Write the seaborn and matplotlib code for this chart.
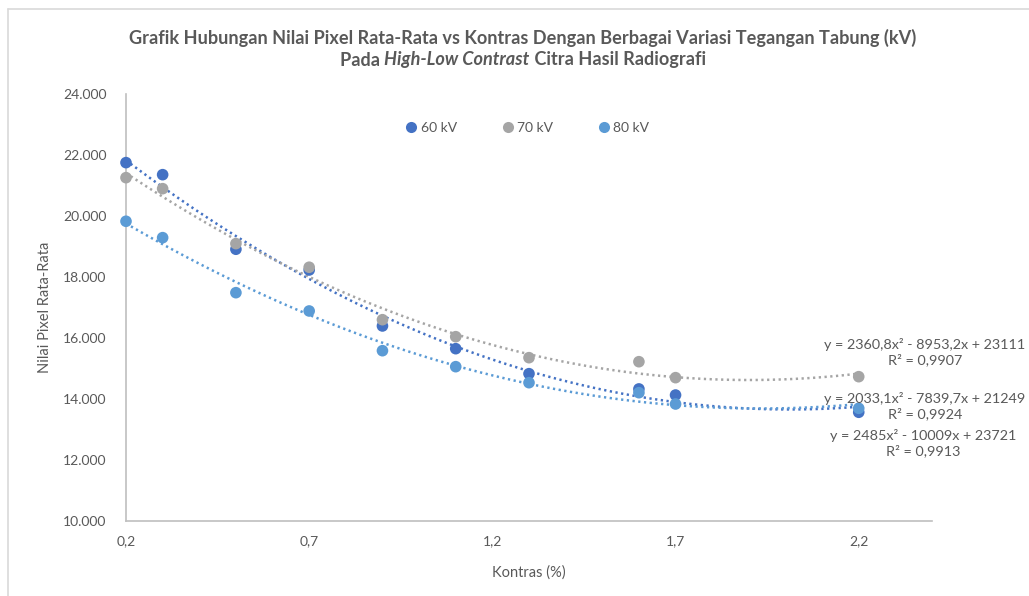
import numpy as np
import pandas as pd
import matplotlib
matplotlib.use("Agg")
import matplotlib.pyplot as plt
import seaborn as sns
from matplotlib.ticker import FuncFormatter, FixedLocator
from matplotlib.lines import Line2D

# ---------------- data ----------------
kontras = [0.2, 0.3, 0.5, 0.7, 0.9, 1.1, 1.3, 1.6, 1.7, 2.2]
kv60 = [21750, 21355, 18910, 18230, 16395, 15650, 14830, 14330, 14130, 13565]
kv70 = [21257, 20896, 19094, 18320, 16600, 16043, 15355, 15223, 14700, 14732]
kv80 = [19827, 19290, 17486, 16886, 15584, 15060, 14535, 14207, 13836, 13695]
series_names = ["60 kV", "70 kV", "80 kV"]
eq_texts = ["y = 2360,8x\u00b2 - 8953,2x + 23111\nR\u00b2 = 0,9907",
            "y = 2033,1x\u00b2 - 7839,7x + 21249\nR\u00b2 = 0,9924",
            "y = 2485x\u00b2 - 10009x + 23721\nR\u00b2 = 0,9913"]
x_ticks = [0.2, 0.7, 1.2, 1.7, 2.2]
y_ticks = [10000, 12000, 14000, 16000, 18000, 20000, 22000, 24000]

colors = {"60 kV": "#4472C4", "70 kV": "#A5A5A5", "80 kV": "#5B9BD5"}
TXT = "#595959"

df = pd.DataFrame({
    "Kontras": kontras * 3,
    "Nilai": kv60 + kv70 + kv80,
    "Seri": sum([[n] * len(kontras) for n in series_names], []),
})

sns.set_theme(style="white")
plt.rcParams["font.family"] = ["Lato", "DejaVu Sans"]

W, H = 1029, 596
fig = plt.figure(figsize=(W / 100, H / 100), dpi=100)
ax = fig.add_axes([126 / W, 1 - 521 / H, (932 - 126) / W, (521 - 94) / H])

# trendlines (2nd order polynomial)
for name in series_names:
    sub = df[df["Seri"] == name]
    sns.regplot(data=sub, x="Kontras", y="Nilai", order=2, ci=None, scatter=False,
                truncate=True, ax=ax,
                line_kws=dict(color=colors[name], lw=1.8, linestyle=(0, (0.9, 1.4))))

sns.scatterplot(data=df, x="Kontras", y="Nilai", hue="Seri", palette=colors,
                s=70, edgecolor="none", ax=ax, legend=False, zorder=5)
for c in ax.collections:
    c.set_clip_on(False)

ax.set_xlim(0.2, 2.4)
ax.set_ylim(10000, 24000)
ax.xaxis.set_major_locator(FixedLocator(x_ticks))
ax.yaxis.set_major_locator(FixedLocator(y_ticks))
ax.xaxis.set_major_formatter(FuncFormatter(lambda v, p: f"{v:.1f}".replace(".", ",")))
ax.yaxis.set_major_formatter(FuncFormatter(lambda v, p: f"{v:,.0f}".replace(",", ".")))
ax.tick_params(axis="both", length=0, labelsize=10, labelcolor=TXT)
ax.tick_params(axis="y", pad=14)
ax.tick_params(axis="x", pad=10)
for s in ["top", "right"]:
    ax.spines[s].set_visible(False)
for s in ["left", "bottom"]:
    ax.spines[s].set_color("#BFBFBF")
    ax.spines[s].set_linewidth(1.2)
ax.set_xlabel("Kontras (%)", fontsize=10.5, color=TXT, labelpad=13)
ax.set_ylabel("Nilai Pixel Rata-Rata", fontsize=10.5, color=TXT, labelpad=8)

# legend
handles = [Line2D([], [], marker="o", linestyle="none", markersize=8,
                  markerfacecolor=colors[n], markeredgecolor="none") for n in series_names]
fig.legend(handles, series_names, loc="center", bbox_to_anchor=(527 / W, 1 - 128 / H),
           ncol=3, frameon=False, fontsize=10, labelcolor=TXT, handletextpad=0.15,
           columnspacing=3.2, handlelength=1.0)

# trendline equations
eq_pos = [(925, 352), (925, 406), (923, 443)]
for t, (px, py) in zip(eq_texts, eq_pos):
    fig.text(px / W, 1 - py / H, t, ha="center", va="center", fontsize=10.4,
             color=TXT, multialignment="center", linespacing=1.2)

# title
TFS = 13.1
fig.text(523 / W, 1 - 38 / H,
         "Grafik Hubungan Nilai Pixel Rata-Rata vs Kontras Dengan Berbagai Variasi Tegangan Tabung (kV)",
         ha="center", va="center", fontsize=TFS, fontweight="bold", color=TXT)
parts = [("Pada ", "normal"), ("High-Low Contrast", "italic"), (" Citra Hasil Radiografi", "normal")]
fig.canvas.draw()
r = fig.canvas.get_renderer()
widths = []
for s, st in parts:
    t = fig.text(0, 0, s, fontsize=TFS, fontweight="bold", style=st)
    widths.append(t.get_window_extent(r).width)
    t.remove()
total = sum(widths)
x0 = 523 - total / 2
for (s, st), w in zip(parts, widths):
    fig.text(x0 / W, 1 - 60 / H, s, ha="left", va="center", fontsize=TFS,
             fontweight="bold", style=st, color=TXT)
    x0 += w

# chart border
fig.add_artist(Line2D([8 / W, 8 / W], [0, 1 - 9 / H], transform=fig.transFigure,
                      color="#D9D9D9", lw=1.2))
fig.add_artist(Line2D([8 / W, 1], [1 - 9 / H, 1 - 9 / H], transform=fig.transFigure,
                      color="#D9D9D9", lw=1.2))

fig.savefig("out.png", dpi=100, facecolor="white")
